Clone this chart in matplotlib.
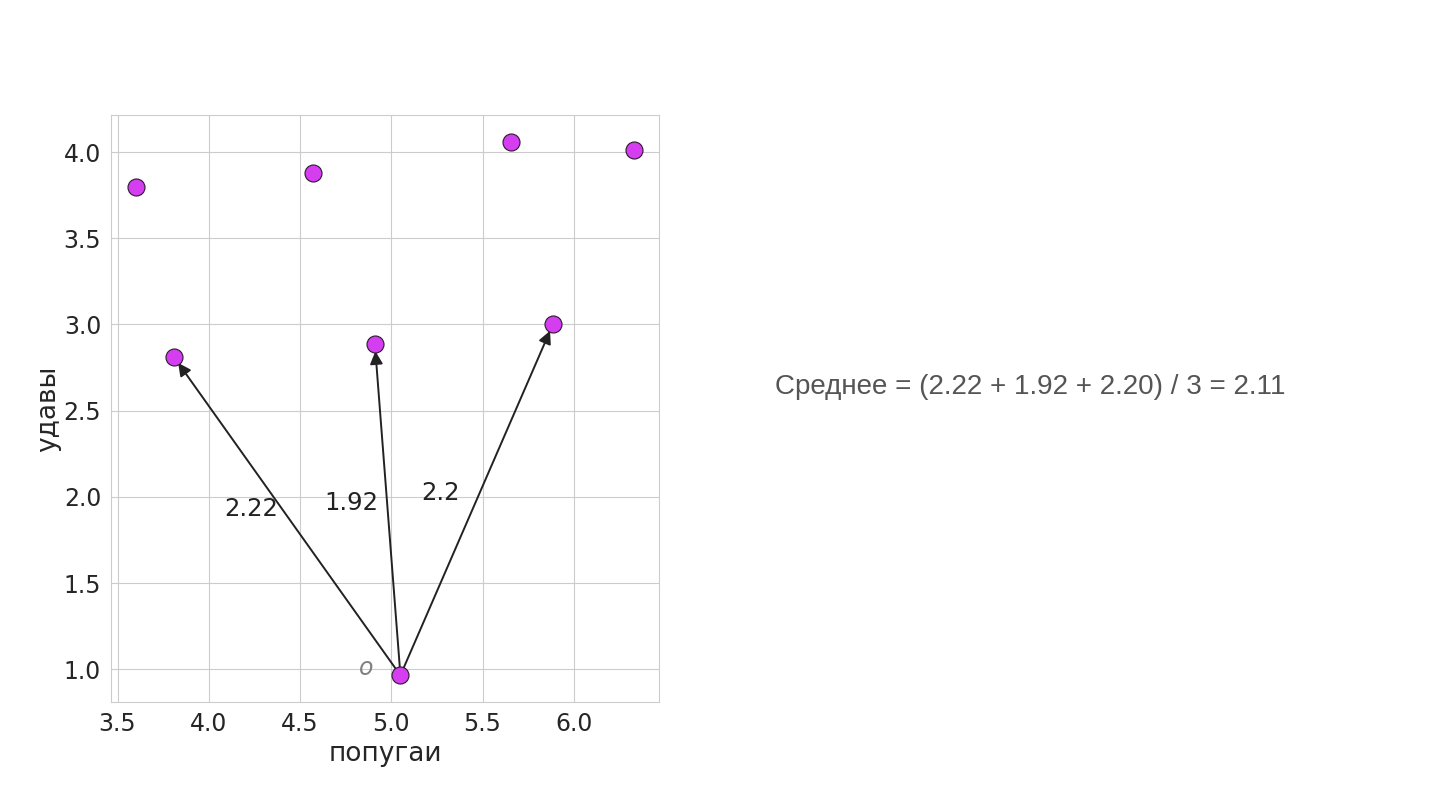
import matplotlib
matplotlib.use("Agg")
import matplotlib.pyplot as plt
import seaborn as sns
import numpy as np

sns.set_style("whitegrid")
plt.rcParams['font.family'] = ['DejaVu Sans']

# data
x_vals = [3.60, 4.57, 5.655, 6.33, 3.81, 4.91, 5.885, 5.05]
y_vals = [3.80, 3.88, 4.06, 4.01, 2.81, 2.885, 3.00, 0.965]
origin = (5.05, 0.965)
targets_x = [3.81, 4.91, 5.885]
targets_y = [2.81, 2.885, 3.00]
dist_labels = ["2.22", "1.92", "2.2"]
origin_label = "o"
summary = "Среднее = (2.22 + 1.92 + 2.20) / 3 = 2.11"
xlabel = "попугаи"
ylabel = "удавы"

fig = plt.figure(figsize=(14.4, 8.1), dpi=100)
ax = fig.add_axes([0.077, 0.1333, 0.3806, 0.7247])

ax.scatter(x_vals, y_vals, s=150, color="#d43df0", edgecolor="#2a1a2a",
           linewidth=0.8, zorder=3)

for tx, ty, lab in zip(targets_x, targets_y, dist_labels):
    ax.annotate("", xy=(tx, ty), xytext=origin,
                arrowprops=dict(arrowstyle="-|>", color="#222222", lw=1.4,
                                shrinkA=0, shrinkB=5, mutation_scale=19),
                zorder=2)
    mx = (origin[0] + tx) / 2
    my = (origin[1] + ty) / 2
    ax.text(mx - 0.2, my + 0.04, lab, ha="center", va="center",
            fontsize=17.5, color="#222222")

ax.text(origin[0] - 0.19, origin[1] + 0.04, origin_label, ha="center",
        va="center", fontsize=17, color="#808080", style="italic")

ax.tick_params(labelsize=17, colors="#262626")
ax.set_xlabel(xlabel, fontsize=19, color="#262626", labelpad=4)
ax.set_ylabel(ylabel, fontsize=19, color="#262626", labelpad=2)
ax.set_xticks([3.5, 4.0, 4.5, 5.0, 5.5, 6.0])
ax.set_yticks([1.0, 1.5, 2.0, 2.5, 3.0, 3.5, 4.0])

fig.text(0.538, 0.522, summary, ha="left", va="center", fontsize=20,
         color="#555555", family=["Liberation Sans", "DejaVu Sans"])

fig.savefig("out.png", dpi=100)
